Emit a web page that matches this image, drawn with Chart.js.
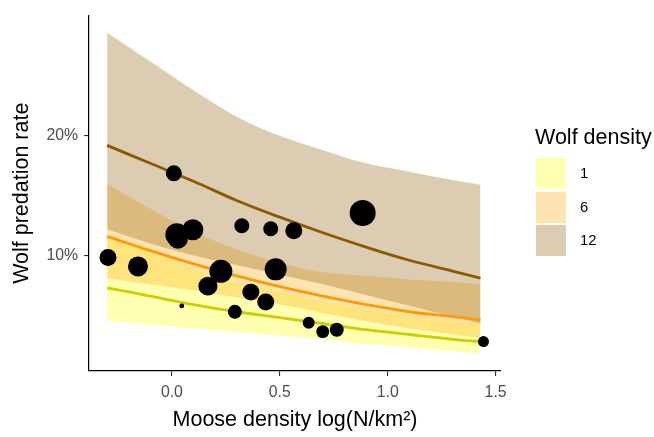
<!DOCTYPE html>
<html>
<head>
<meta charset="utf-8">
<script src="https://cdn.jsdelivr.net/npm/chart.js@4.4.1/dist/chart.umd.min.js"></script>
<style>
  body { margin: 0; background: #fff; }
  #wrap {
    position: relative;
    width: 654px;
    height: 437px;
    font-family: 'Liberation Sans', Arial, sans-serif;
  }
  canvas { position: absolute; left: 0; top: 0; }
  .legend-title {
    position: absolute;
    left: 535px;
    top: 123.5px;
    font-size: 21.5px;
    line-height: 26px;
    color: #000;
    white-space: nowrap;
  }
  .key { position: absolute; left: 536px; width: 30px; height: 31px; }
  .key-label {
    position: absolute;
    left: 580px;
    font-size: 14.8px;
    line-height: 31px;
    color: #000;
  }
</style>
</head>
<body>
<div id="wrap">
  <canvas id="chart" width="654" height="437"></canvas>
  <div id="legend"></div>
</div>
<script>
// moose density log(N/km2) where the fitted curves are evaluated
const moose = [-0.3, -0.1, 0.1, 0.3, 0.5, 0.7, 0.9, 1.1, 1.3, 1.43]
const wolfDensities = ['1', '6', '12']

// fitted wolf predation rate (%) with its band, per wolf density
const fit1 = [7.3, 6.6, 5.9, 5.3, 4.8, 4.3, 3.8, 3.4, 3.0, 2.8]
const lower1 = [4.55, 4.2, 3.9, 3.6, 3.3, 3.0, 2.6, 2.3, 2.0, 1.8]
const upper1 = [11.4, 10.4, 8.9, 7.8, 7.0, 6.2, 5.55, 5.0, 4.5, 4.35]

const fit6 = [11.6, 10.4, 9.3, 8.3, 7.4, 6.6, 5.9, 5.3, 4.9, 4.63]
const lower6 = [8.1, 7.6, 7.1, 6.5, 5.9, 5.2, 4.5, 3.9, 3.4, 3.1]
const upper6 = [16.0, 13.9, 12.0, 10.5, 9.4, 8.6, 8.3, 8.0, 7.8, 7.6]

const fit12 = [19.2, 17.7, 16.2, 14.6, 13.2, 11.9, 10.7, 9.6, 8.7, 8.1]
const lower12 = [12.2, 11.0, 10.0, 9.2, 8.4, 7.6, 6.7, 5.8, 4.9, 4.3]
const upper12 = [28.6, 26.2, 23.8, 21.6, 20.0, 18.8, 17.7, 17.0, 16.3, 15.9]

// observed study sites
const obsMoose = [-0.296, -0.157, 0.009, 0.023, 0.028, 0.097, 0.167, 0.227, 0.046, 0.292, 0.324,
  0.366, 0.458, 0.435, 0.481, 0.565, 0.884, 0.634, 0.699, 0.764, 1.444]
const obsRate = [9.83, 9.09, 16.86, 11.74, 11.4, 12.15, 7.44, 8.68, 5.79, 5.29, 12.48,
  6.94, 12.23, 6.12, 8.84, 12.07, 13.55, 4.38, 3.64, 3.80, 2.81]
const obsWeight = [72, 100, 64, 132, 100, 110, 90, 132, 6, 49, 56,
  72, 56, 72, 121, 72, 169, 36, 42, 49, 30]

const xTicks = [0, 0.5, 1.0, 1.5]
const yTicks = [10, 20]

const fills = ['rgba(255,255,0,0.3)', 'rgba(255,165,0,0.3)', 'rgba(139,90,0,0.3)']
const lineColors = ['#CDCD00', '#FF9A00', '#8B5A00']
const font = "'Liberation Sans', Arial, sans-serif"

const pts = (ys) => moose.map((x, i) => ({ x, y: ys[i] }))

const bands = [[lower1, fit1, upper1], [lower6, fit6, upper6], [lower12, fit12, upper12]]
const datasets = []

// ribbons first (yellow drawn first, so it gets the highest order)
bands.forEach(([lo, , hi], g) => {
  const lowIndex = datasets.length + 1
  datasets.push({
    data: pts(hi),
    fill: { target: lowIndex },
    backgroundColor: fills[g],
    borderWidth: 0,
    pointRadius: 0,
    tension: 0.35,
    order: 20 - g * 2
  })
  datasets.push({
    data: pts(lo),
    fill: false,
    borderWidth: 0,
    pointRadius: 0,
    tension: 0.35,
    order: 19 - g * 2
  })
})

bands.forEach(([, mid], g) => {
  datasets.push({
    data: pts(mid),
    fill: false,
    borderColor: lineColors[g],
    borderWidth: 2.8,
    pointRadius: 0,
    tension: 0.35,
    order: 10 - g
  })
})

datasets.push({
  type: 'bubble',
  data: obsMoose.map((x, i) => ({ x, y: obsRate[i], r: Math.sqrt(obsWeight[i]) })),
  backgroundColor: '#000',
  borderWidth: 0,
  order: 0
})

new Chart(document.getElementById('chart'), {
  type: 'line',
  data: { datasets },
  options: {
    responsive: false,
    animation: false,
    events: [],
    layout: { padding: { left: 0, top: 12, right: 153, bottom: 0 } },
    plugins: {
      legend: { display: false },
      tooltip: { enabled: false }
    },
    scales: {
      x: {
        type: 'linear',
        min: -0.384,
        max: 1.525,
        afterFit: (s) => { s.height = 66 },
        afterBuildTicks: (s) => { s.ticks = xTicks.map((v) => ({ value: v })) },
        grid: { drawOnChartArea: false, tickLength: 5, color: '#333', lineWidth: 1.1 },
        border: { display: true, color: '#000', width: 1.2 },
        ticks: {
          padding: 7,
          color: '#4D4D4D',
          font: { family: font, size: 15.8 },
          callback: (v) => Number(v).toFixed(1)
        },
        title: {
          display: true,
          text: 'Moose density log(N/km²)',
          color: '#000',
          font: { family: font, size: 21.5 },
          padding: { top: 0, bottom: 4.5 }
        }
      },
      y: {
        type: 'linear',
        min: 0.35,
        max: 30.05,
        afterFit: (s) => { s.width = 89 },
        afterBuildTicks: (s) => { s.ticks = yTicks.map((v) => ({ value: v })) },
        grid: { drawOnChartArea: false, tickLength: 5, color: '#333', lineWidth: 1.1 },
        border: { display: true, color: '#000', width: 1.2 },
        ticks: {
          padding: 6,
          color: '#4D4D4D',
          font: { family: font, size: 15.8 },
          callback: (v) => v + '%'
        },
        title: {
          display: true,
          text: 'Wolf predation rate',
          color: '#000',
          font: { family: font, size: 21.5 },
          padding: { top: 9, bottom: 0 }
        }
      }
    }
  }
})

// legend for the ribbon fills
const legend = document.getElementById('legend')
const title = document.createElement('div')
title.className = 'legend-title'
title.textContent = 'Wolf density'
legend.appendChild(title)
wolfDensities.forEach((d, i) => {
  const top = 158 + i * 33.5
  const key = document.createElement('div')
  key.className = 'key'
  key.style.top = top + 'px'
  key.style.background = fills[i]
  legend.appendChild(key)
  const label = document.createElement('div')
  label.className = 'key-label'
  label.style.top = top + 'px'
  label.textContent = d
  legend.appendChild(label)
})
</script>
</body>
</html>
